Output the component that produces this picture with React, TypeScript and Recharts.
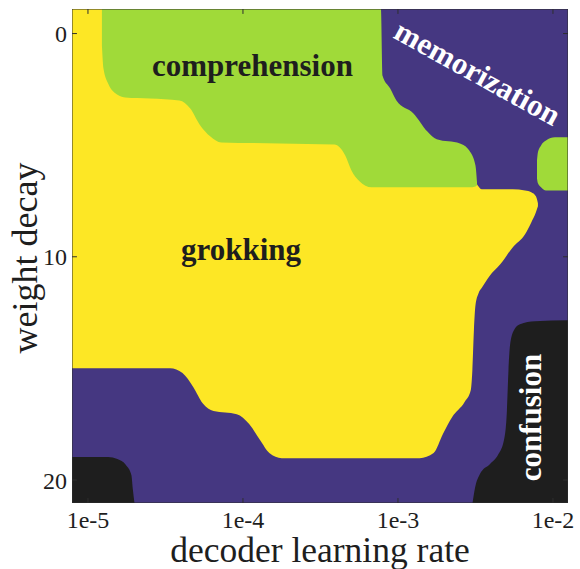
import React from 'react';
import { ComposedChart, Area, Line, XAxis, YAxis, ReferenceDot } from 'recharts';

// axis ranges: x = log10(decoder learning rate), y = weight decay (reversed)
const X_MIN = -5.103;
const X_MAX = -1.903;
const Y_MIN = -1.1;
const Y_MAX = 21.03;

const xTicks = [-5, -4, -3, -2];
const yTicks = [0, 10, 20];

// region boundaries: [log10 lr, upper weight decay, lower weight decay]
const memorizationRegion = [
  [X_MIN, Y_MIN, Y_MAX],
  [X_MAX, Y_MIN, Y_MAX],
];

const grokkingRegion = [
  [X_MIN, Y_MIN, 14.99],
  [-4.47, Y_MIN, 14.99],
  [-4.39, Y_MIN, 15.21],
  [-4.32, Y_MIN, 15.84],
  [-4.26, Y_MIN, 16.56],
  [-4.19, Y_MIN, 16.91],
  [-4.04, Y_MIN, 17.05],
  [-3.96, Y_MIN, 17.49],
  [-3.89, Y_MIN, 18.21],
  [-3.83, Y_MIN, 18.79],
  [-3.75, Y_MIN, 19.02],
  [-3.25, Y_MIN, 19.02],
  [-3.13, 6.35, 19.02],
  [-2.86, 6.35, 19.02],
  [-2.77, 6.35, 18.79],
  [-2.71, 6.35, 17.94],
  [-2.65, 6.35, 17.18],
  [-2.57, 6.4, 16.51],
  [-2.53, 6.45, 15.97],
  [-2.52, 6.5, 15.08],
  [-2.51, 6.6, 13.29],
  [-2.5, 6.65, 12.17],
  [-2.48, 6.85, 11.63],
  [-2.46, 6.98, 11.4],
  [-2.41, 6.98, 10.87],
  [-2.34, 6.98, 10.34],
  [-2.26, 6.98, 9.58],
  [-2.18, 7.03, 8.99],
  [-2.14, 7.11, 8.46],
  [-2.11, 7.29, 8.01],
  [-2.097, 7.6, 7.74],
];

const comprehensionRegion = [
  [-4.91, Y_MIN, 0.54],
  [-4.9, Y_MIN, 1.57],
  [-4.87, Y_MIN, 2.24],
  [-4.83, Y_MIN, 2.64],
  [-4.76, Y_MIN, 2.86],
  [-4.6, Y_MIN, 2.91],
  [-4.41, Y_MIN, 3.0],
  [-4.34, Y_MIN, 3.36],
  [-4.28, Y_MIN, 4.07],
  [-4.21, Y_MIN, 4.61],
  [-4.14, Y_MIN, 4.88],
  [-3.76, Y_MIN, 4.92],
  [-3.41, Y_MIN, 4.97],
  [-3.34, Y_MIN, 5.46],
  [-3.3, Y_MIN, 6.13],
  [-3.25, Y_MIN, 6.6],
  [-3.17, Y_MIN, 6.89],
  [-3.11, Y_MIN, 6.89],
  [-3.1, 1.88, 6.89],
  [-3.05, 2.46, 6.89],
  [-3.01, 3.0, 6.89],
  [-2.9, 3.58, 6.89],
  [-2.81, 4.39, 6.89],
  [-2.75, 4.74, 6.89],
  [-2.6, 4.92, 6.89],
  [-2.54, 5.24, 6.89],
  [-2.5, 5.91, 6.85],
  [-2.49, 6.67, 6.8],
];

const comprehensionPatch = [
  [-2.103, 5.68, 6.49],
  [-2.097, 5.32, 6.71],
  [-2.077, 5.01, 6.89],
  [-2.045, 4.79, 7.03],
  [-1.987, 4.65, 7.03],
  [X_MAX, 4.65, 7.03],
];

const confusionLow = [
  [X_MIN, 18.97, Y_MAX],
  [-4.87, 18.97, Y_MAX],
  [-4.81, 19.06, Y_MAX],
  [-4.755, 19.33, Y_MAX],
  [-4.72, 19.78, Y_MAX],
  [-4.71, 20.45, Y_MAX],
  [-4.7, Y_MAX, Y_MAX],
];

const confusionHigh = [
  [-2.519, Y_MAX, Y_MAX],
  [-2.503, 20.36, Y_MAX],
  [-2.471, 19.73, Y_MAX],
  [-2.406, 19.28, Y_MAX],
  [-2.355, 18.88, Y_MAX],
  [-2.316, 18.21, Y_MAX],
  [-2.297, 16.87, Y_MAX],
  [-2.287, 15.08, Y_MAX],
  [-2.277, 13.96, Y_MAX],
  [-2.252, 13.29, Y_MAX],
  [-2.213, 13.02, Y_MAX],
  [-2.116, 12.89, Y_MAX],
  [X_MAX, 12.84, Y_MAX],
];

// region labels: [text, log10 lr, weight decay, angle]
const regionLabels: [string, number, number, number][] = [
  ['comprehension', -3.939, 1.43, 0],
  ['grokking', -4.012, 9.66, 0],
  ['memorization', -2.485, 1.74, 29],
  ['confusion', -2.144, 17.2, -90],
];

const COLORS = {
  memorization: '#453781',
  grokking: '#fde725',
  comprehension: '#a0da39',
  confusion: '#1e1e1e',
  frame: '#2e2e2e',
  text: '#1e1e1e',
};

const FONT = '"Liberation Serif", "Times New Roman", serif';

// inward tick mark lengths in data units (~5 px)
const X_TICK_LEN = 0.032;
const Y_TICK_LEN = 0.22;

const toRows = (arr: number[][]) => arr.map(([x, lo, hi]) => ({ x, lo, hi }));
const range = (d: any) => [d.lo, d.hi];

// frame outline and inward tick marks, as one polyline broken by gaps
const frameRows = [
  { x: X_MIN, y: Y_MIN },
  { x: X_MAX, y: Y_MIN },
  { x: X_MAX, y: Y_MAX },
  { x: X_MIN, y: Y_MAX },
  { x: X_MIN, y: Y_MIN },
  { x: X_MIN, y: null },
  ...xTicks.flatMap((t) => [
    { x: t, y: Y_MAX },
    { x: t, y: Y_MAX - Y_TICK_LEN },
    { x: t, y: null },
    { x: t, y: Y_MIN },
    { x: t, y: Y_MIN + Y_TICK_LEN },
    { x: t, y: null },
  ]),
  ...yTicks.flatMap((t) => [
    { x: X_MIN, y: t },
    { x: X_MIN + X_TICK_LEN, y: t },
    { x: X_MIN, y: null },
    { x: X_MAX, y: t },
    { x: X_MAX - X_TICK_LEN, y: t },
    { x: X_MAX, y: null },
  ]),
];

const regionLabel = (text: string, angle: number) => (props: any) => {
  const vb = props.viewBox || {};
  const cx = (vb.x || 0) + (vb.width || 0) / 2;
  const cy = (vb.y || 0) + (vb.height || 0) / 2;
  const dark = text === 'comprehension' || text === 'grokking';
  return (
    <text
      x={cx}
      y={cy}
      dy="0.35em"
      textAnchor="middle"
      fill={dark ? COLORS.text : '#ffffff'}
      fontSize={31}
      fontWeight={700}
      fontFamily={FONT}
      transform={angle ? `rotate(${angle}, ${cx}, ${cy})` : undefined}
    >
      {text}
    </text>
  );
};

const XTitle = (props: any) => {
  const vb = props.viewBox || {};
  const cx = vb.x + vb.width / 2;
  return (
    <text x={cx} y={562} textAnchor="middle" fill={COLORS.text} fontSize={35.5} fontFamily={FONT}>
      decoder learning rate
    </text>
  );
};

const YTitle = (props: any) => {
  const vb = props.viewBox || {};
  const cy = vb.y + vb.height / 2;
  const bx = 37;
  return (
    <text
      x={bx}
      y={cy + 2}
      textAnchor="middle"
      fill={COLORS.text}
      fontSize={36}
      fontFamily={FONT}
      transform={`rotate(-90, ${bx}, ${cy + 2})`}
    >
      weight decay
    </text>
  );
};

const XTick = (props: any) => (
  <text x={props.x} y={props.y} dy="0.71em" textAnchor="middle" fill={COLORS.text} fontSize={24} fontFamily={FONT}>
    {`1e${props.payload.value}`}
  </text>
);

const YTick = (props: any) => (
  <text x={props.x} y={props.y} dy="0.355em" textAnchor="end" fill={COLORS.text} fontSize={24} fontFamily={FONT}>
    {props.payload.value}
  </text>
);

const areaProps = {
  dataKey: range,
  type: 'monotone' as const,
  stroke: 'none',
  fillOpacity: 1,
  isAnimationActive: false,
  dot: false,
  activeDot: false,
};

export default function App() {
  return (
    <div style={{ position: 'absolute', left: 0, top: 0, background: '#fff', fontFamily: FONT }}>
      <ComposedChart width={580} height={569} margin={{ top: 9, right: 12, bottom: 0, left: 0 }}>
        <Area {...areaProps} data={toRows(memorizationRegion)} fill={COLORS.memorization} type="linear" />
        <Area {...areaProps} data={toRows(grokkingRegion)} fill={COLORS.grokking} />
        <Area {...areaProps} data={toRows(comprehensionRegion)} fill={COLORS.comprehension} />
        <Area {...areaProps} data={toRows(comprehensionPatch)} fill={COLORS.comprehension} />
        <Area {...areaProps} data={toRows(confusionLow)} fill={COLORS.confusion} />
        <Area {...areaProps} data={toRows(confusionHigh)} fill={COLORS.confusion} />
        <Line
          data={frameRows}
          dataKey="y"
          type="linear"
          stroke={COLORS.frame}
          strokeWidth={1}
          dot={false}
          activeDot={false}
          connectNulls={false}
          isAnimationActive={false}
        />
        <XAxis
          type="number"
          dataKey="x"
          domain={[X_MIN, X_MAX]}
          allowDataOverflow
          ticks={xTicks}
          interval={0}
          height={66}
          tickSize={-5}
          tickMargin={13}
          axisLine={false}
          tickLine={false}
          tick={<XTick />}
          label={{ content: XTitle }}
        />
        <YAxis
          type="number"
          domain={[Y_MIN, Y_MAX]}
          allowDataOverflow
          reversed
          ticks={yTicks}
          interval={0}
          width={72}
          tickSize={-5}
          tickMargin={10}
          axisLine={false}
          tickLine={false}
          tick={<YTick />}
          label={{ content: YTitle }}
        />
        {regionLabels.map(([text, x, y, angle]) => (
          <ReferenceDot
            key={text}
            x={x}
            y={y}
            r={0}
            fill="none"
            stroke="none"
            label={{ content: regionLabel(text, angle) }}
          />
        ))}
      </ComposedChart>
    </div>
  );
}
